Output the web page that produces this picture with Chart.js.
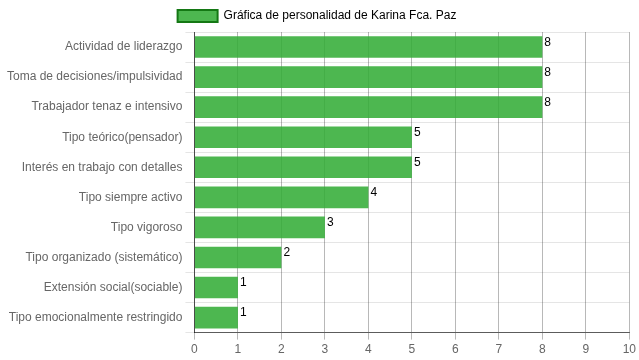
<!DOCTYPE html>
<html>
<head>
<meta charset="utf-8">
<script src="https://cdn.jsdelivr.net/npm/chart.js@4/dist/chart.umd.min.js"></script>
<style>
  html, body { margin: 0; padding: 0; background: #fff; }
  #wrap { width: 639px; height: 360px; }
</style>
</head>
<body>
<div id="wrap"><canvas id="myBar"></canvas></div>
<script>
Chart.defaults.font.family = "'Liberation Sans', Arial, sans-serif";
Chart.defaults.font.size = 12;
Chart.defaults.color = '#666';

const labels = [
  'Actividad de liderazgo',
  'Toma de decisiones/impulsividad',
  'Trabajador tenaz e intensivo',
  'Tipo teórico(pensador)',
  'Interés en trabajo con detalles',
  'Tipo siempre activo',
  'Tipo vigoroso',
  'Tipo organizado (sistemático)',
  'Extensión social(sociable)',
  'Tipo emocionalmente restringido'
];
const scores = [8, 8, 8, 5, 5, 4, 3, 2, 1, 1];
const seriesName = 'Gráfica de personalidad de Karina Fca. Paz';

// writes each value just past the end of its bar
const valueLabels = {
  id: 'valueLabels',
  afterDatasetsDraw(chart) {
    const ctx = chart.ctx;
    const meta = chart.getDatasetMeta(0);
    ctx.save();
    ctx.fillStyle = '#000';
    ctx.font = "12px 'Liberation Sans', Arial, sans-serif";
    ctx.textAlign = 'left';
    ctx.textBaseline = 'top';
    meta.data.forEach((bar, i) => {
      const top = bar.y - bar.height / 2;
      ctx.fillText(chart.data.datasets[0].data[i], bar.x + 2, top);
    });
    ctx.restore();
  }
};

const cvs = document.getElementById('myBar');
new Chart(cvs, {
  type: 'bar',
  data: {
    labels: labels,
    datasets: [{
      label: seriesName,
      data: scores,
      backgroundColor: 'rgba(50, 172, 54, 0.87)',
      borderWidth: 0
    }]
  },
  options: {
    indexAxis: 'y',
    responsive: true,
    maintainAspectRatio: false,
    animation: false,
    layout: { padding: { left: 4, right: 9, top: 0, bottom: 0 } },
    plugins: {
      legend: {
        labels: {
          boxWidth: 40,
          boxHeight: 12,
          color: '#666',
          generateLabels(chart) {
            return [{
              text: seriesName,
              fillStyle: 'rgba(50, 172, 54, 0.87)',
              strokeStyle: 'rgb(20, 120, 20)',
              lineWidth: 2,
              datasetIndex: 0
            }];
          }
        }
      },
      tooltip: { enabled: false }
    },
    scales: {
      x: {
        min: 0,
        max: 10,
        ticks: { stepSize: 1, color: '#666', padding: 3 },
        grid: {
          color: 'rgba(0,0,0,0.28)',
          tickLength: 7
        },
        border: { color: 'rgba(0,0,0,0.6)' }
      },
      y: {
        ticks: { color: '#666', padding: 3 },
        grid: {
          color: 'rgba(0,0,0,0.1)',
          tickLength: 9
        },
        border: { color: 'rgba(0,0,0,0.6)' }
      }
    }
  },
  plugins: [valueLabels]
});
</script>
</body>
</html>
